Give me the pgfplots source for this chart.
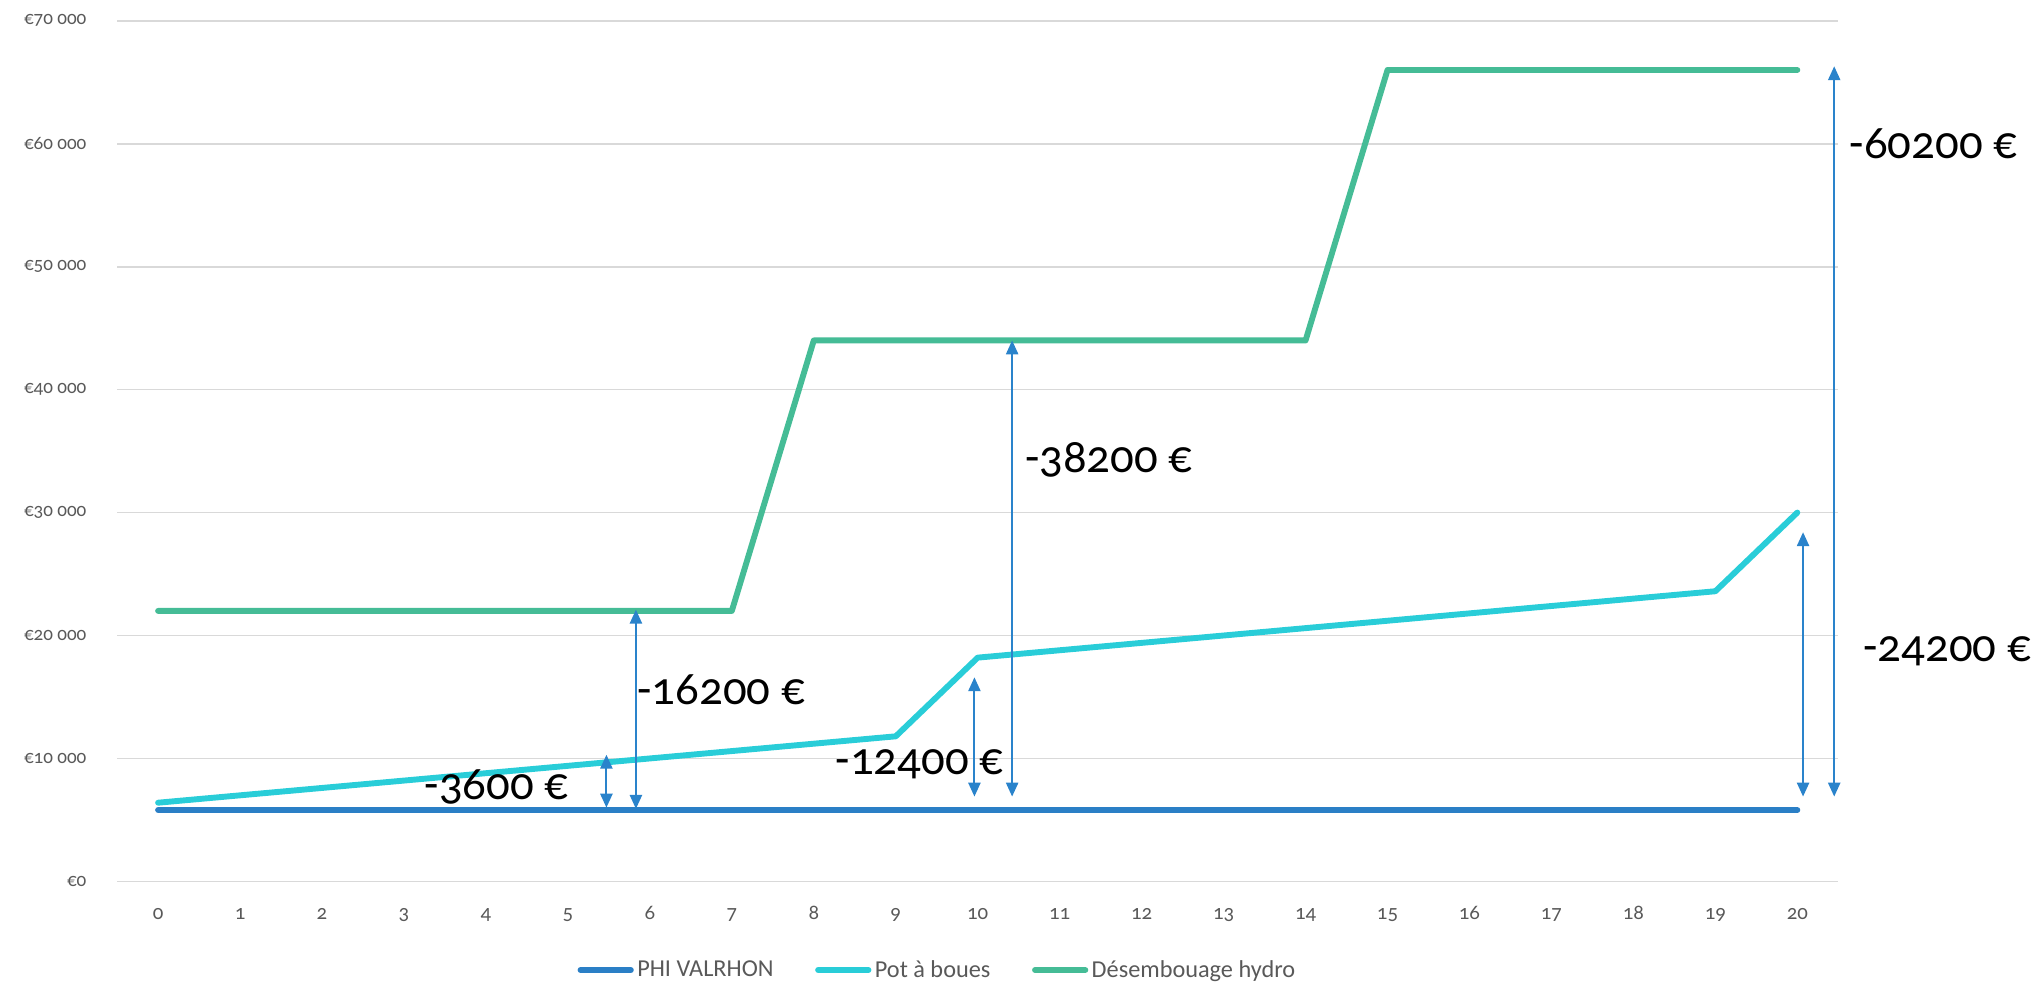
\documentclass[border=0pt]{standalone}
\usepackage{pgfplots}
\pgfplotsset{compat=1.18}
\usepackage{pgfplotstable}
\usepackage{fontspec}
\setmainfont{Carlito}[Numbers=OldStyle]
\usetikzlibrary{arrows.meta}

\definecolor{phi}{HTML}{2A7FC6}
\definecolor{pot}{HTML}{29CDD8}
\definecolor{deso}{HTML}{45BC96}
\definecolor{arr}{HTML}{2A83CB}
\definecolor{gridc}{HTML}{D9D9D9}
\definecolor{lab}{HTML}{595959}

% cost per year, in euros
\pgfplotstableread{
x  phi   pot    deso
0  5800  6400   22000
1  5800  7000   22000
2  5800  7600   22000
3  5800  8200   22000
4  5800  8800   22000
5  5800  9400   22000
6  5800  10000  22000
7  5800  10600  22000
8  5800  11200  44000
9  5800  11800  44000
10 5800  18200  44000
11 5800  18800  44000
12 5800  19400  44000
13 5800  20000  44000
14 5800  20600  44000
15 5800  21200  66000
16 5800  21800  66000
17 5800  22400  66000
18 5800  23000  66000
19 5800  23600  66000
20 5800  30000  66000
}\costs

\begin{document}
\begin{tikzpicture}
\begin{axis}[
  name=ax,
  scale only axis,
  width=992pt, height=496pt,
  xmin=-0.5, xmax=20.5,
  ymin=0, ymax=70000,
  clip=false,
  axis line style={draw=none},
  major tick length=0pt,
  ymajorgrids,
  grid style={gridc, line width=1pt},
  scaled y ticks=false,
  xtick={0,...,20},
  xticklabels={0,1,2,3,4,5,6,7,8,9,10,11,12,13,14,15,16,17,18,19,20},
  ytick={0,10000,...,70000},
  yticklabels={€0,€10 000,€20 000,€30 000,€40 000,€50 000,€60 000,€70 000},
  xticklabel style={font=\fontsize{12}{14}\selectfont, text=lab, anchor=base, yshift=-22pt},
  yticklabel style={font=\fontsize{11}{13}\selectfont, text=lab, anchor=east,
    inner sep=0pt, xshift=-17.5pt},
  legend style={draw=none, fill=none, at={(0.477,-0.103)}, anchor=center,
    legend columns=3, font=\fontsize{14}{16}\selectfont, text=lab,
    /tikz/every even column/.append style={column sep=22pt}},
  legend image code/.code={\draw[#1, line cap=round] (0pt,0pt) -- (29pt,0pt);},
  every axis plot/.append style={line width=3.4pt, line join=round, line cap=round},
]
\addplot[phi] table[x=x, y=phi] {\costs};
\addlegendentry{PHI VALRHON}
\addplot[pot] table[x=x, y=pot] {\costs};
\addlegendentry{Pot à boues}
\addplot[deso] table[x=x, y=deso] {\costs};
\addlegendentry{Désembouage hydro}

\tikzset{gap/.style={arr, line width=1.1pt,
  {Triangle[width=7pt,length=8pt]}-{Triangle[width=7pt,length=8pt]}}}
\draw[gap] (axis cs:5.47,6000) -- (axis cs:5.47,10300);
\draw[gap] (axis cs:5.83,5900) -- (axis cs:5.83,22100);
\draw[gap] (axis cs:9.96,6900) -- (axis cs:9.96,16600);
\draw[gap] (axis cs:10.42,6900) -- (axis cs:10.42,44000);
\draw[gap] (axis cs:20.07,6900) -- (axis cs:20.07,28400);
\draw[gap] (axis cs:20.45,6900) -- (axis cs:20.45,66300);

\tikzset{lbl/.style={font=\fontsize{27}{30}\selectfont, text=black, inner sep=0pt}}
\node[lbl] at (axis cs:4.13,7700) {-3600 €};
\node[lbl] at (axis cs:6.87,15600) {-16200 €};
\node[lbl] at (axis cs:9.29,9500) {-12400 €};
\node[lbl] at (axis cs:11.6,34300) {-38200 €};
\node[lbl] at (axis cs:21.66,60000) {-60200 €};
\node[lbl] at (axis cs:21.83,18700) {-24200 €};
\end{axis}
\pgfresetboundingbox
\path ([shift={(-67.5pt,-58.5pt)}]ax.south west) rectangle ([shift={(116.25pt,12pt)}]ax.north east);
\end{tikzpicture}
\end{document}
